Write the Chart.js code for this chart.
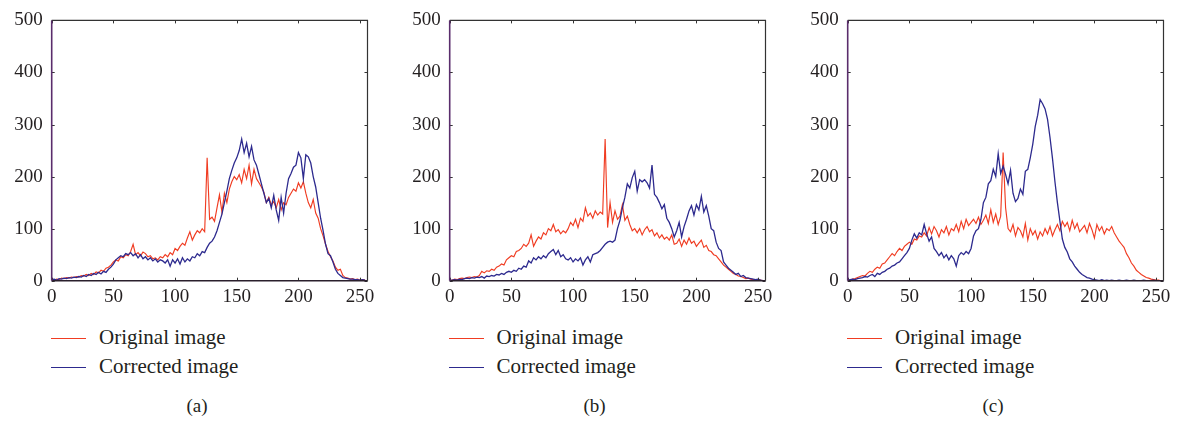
<!DOCTYPE html>
<html>
<head>
<meta charset="utf-8">
<script src="https://cdn.jsdelivr.net/npm/chart.js@4.4.1/dist/chart.umd.min.js"></script>
<style>
  body { margin: 0; background: #fff; width: 1188px; height: 421px; overflow: hidden; position: relative;
         font-family: "Liberation Serif", serif; color: #231f20; }
  canvas { position: absolute; top: 0; }
  .leg { position: absolute; font-size: 21px; line-height: 24px; white-space: nowrap; }
  .swatch { position: absolute; width: 35px; height: 0; }
  .cap { position: absolute; font-size: 19px; width: 60px; text-align: center; line-height: 22px; }
</style>
</head>
<body>
<canvas id="chartA" width="390" height="310"></canvas>
<canvas id="chartB" width="390" height="310"></canvas>
<canvas id="chartC" width="390" height="310"></canvas>
<div id="legends"></div>
<script>
// gray levels (histogram bins, every second level)
const levels = Array.from({ length: 128 }, (_, i) => i * 2);
const xTicks = [0, 50, 100, 150, 200, 250];
const yTicks = [0, 100, 200, 300, 400, 500];
const seriesNames = ['Original image', 'Corrected image'];
const captions = ['(a)', '(b)', '(c)'];

// panel (a)
const aOrig = [
  4, 1, 3, 2, 5, 4, 6, 5, 7, 6, 8, 7, 10, 9, 12, 10,
  14, 12, 17, 15, 20, 18, 24, 26, 30, 36, 40, 38, 46, 44, 50, 48,
  56, 70, 50, 54, 48, 55, 52, 46, 48, 42, 44, 40, 46, 44, 50, 46,
  54, 50, 62, 58, 66, 72, 68, 82, 94, 78, 88, 96, 92, 100, 94, 236,
  118, 122, 114, 140, 165, 132, 168, 150, 176, 190, 200, 194, 204, 188, 214, 196,
  222, 186, 214, 196, 188, 180, 170, 150, 160, 146, 152, 140, 156, 136, 150, 146,
  160, 168, 176, 172, 188, 178, 190, 168, 150, 140, 156, 130, 120, 100, 86, 70,
  56, 46, 38, 26, 20, 22, 10, 6, 5, 3, 4, 2, 3, 1, 2, 1
];
const aCorr = [
  2, 3, 1, 4, 3, 5, 4, 6, 5, 7, 6, 8, 7, 10, 8, 12,
  10, 14, 12, 16, 13, 18, 16, 22, 26, 32, 40, 44, 48, 46, 52, 50,
  54, 48, 52, 44, 50, 42, 46, 40, 44, 38, 42, 36, 40, 38, 34, 40,
  28, 40, 34, 42, 32, 44, 36, 42, 38, 46, 44, 52, 48, 56, 54, 64,
  72, 76, 84, 96, 112, 128, 150, 172, 196, 212, 226, 236, 250, 272, 246, 264,
  238, 258, 232, 222, 204, 186, 168, 150, 158, 140, 164, 136, 116, 160, 130, 168,
  196, 206, 218, 222, 246, 236, 196, 242, 238, 226, 200, 180, 150, 120, 96, 70,
  52, 48, 36, 22, 14, 10, 6, 5, 4, 3, 3, 2, 2, 1, 2, 1
];

// panel (b)
const bOrig = [
  0, 1, 3, 2, 4, 5, 4, 6, 7, 6, 8, 7, 10, 18, 15, 19,
  18, 22, 20, 26, 28, 32, 30, 40, 44, 48, 46, 56, 58, 62, 70, 66,
  72, 88, 66, 76, 84, 80, 92, 88, 100, 96, 108, 94, 98, 90, 96, 92,
  100, 112, 106, 118, 102, 120, 114, 140, 124, 130, 120, 134, 126, 132, 128, 272,
  102, 150, 112, 134, 118, 124, 146, 116, 124, 108, 96, 100, 92, 100, 88, 98,
  104, 94, 98, 86, 92, 82, 88, 80, 84, 78, 88, 70, 72, 80, 66, 78,
  70, 82, 72, 76, 66, 72, 78, 64, 68, 58, 56, 50, 48, 42, 36, 30,
  26, 22, 18, 14, 12, 9, 8, 6, 4, 5, 3, 2, 2, 1, 1, 0
];
const bCorr = [
  0, 1, 2, 1, 3, 2, 4, 5, 4, 6, 5, 7, 6, 8, 5, 9,
  8, 10, 9, 12, 11, 14, 12, 16, 18, 16, 20, 18, 24, 22, 28, 26,
  38, 34, 44, 40, 46, 42, 48, 44, 52, 56, 60, 50, 58, 46, 50, 42,
  40, 44, 36, 42, 38, 44, 30, 40, 46, 36, 50, 52, 54, 58, 64, 70,
  74, 76, 74, 78, 100, 116, 140, 160, 186, 178, 198, 210, 172, 194, 190, 194,
  188, 178, 222, 166, 160, 150, 138, 146, 120, 112, 100, 84, 96, 112, 84, 104,
  118, 134, 144, 126, 146, 136, 162, 132, 144, 124, 100, 96, 74, 62, 58, 36,
  30, 24, 20, 16, 12, 14, 8, 10, 6, 5, 4, 3, 2, 3, 1, 0
];

// panel (c)
const cOrig = [
  2, 1, 3, 4, 6, 8, 10, 9, 14, 18, 16, 22, 26, 24, 32, 34,
  40, 46, 52, 48, 56, 62, 58, 66, 70, 74, 70, 80, 78, 86, 84, 92,
  86, 102, 90, 104, 96, 84, 98, 92, 104, 88, 100, 96, 108, 94, 114, 100,
  118, 106, 112, 118, 110, 122, 108, 116, 126, 110, 136, 112, 128, 108, 124, 246,
  140, 100, 94, 108, 86, 102, 96, 84, 110, 78, 100, 88, 96, 80, 94, 86,
  100, 90, 104, 86, 98, 108, 96, 114, 104, 112, 96, 116, 100, 110, 94, 100,
  106, 92, 110, 98, 82, 108, 96, 104, 90, 100, 96, 104, 92, 84, 76, 70,
  64, 52, 44, 34, 28, 20, 16, 12, 9, 6, 5, 3, 2, 1, 1, 0
];
const cCorr = [
  1, 2, 3, 2, 4, 5, 6, 8, 7, 10, 12, 8, 14, 12, 16, 18,
  22, 24, 28, 30, 34, 36, 42, 48, 54, 62, 78, 90, 82, 92, 88, 108,
  90, 76, 84, 62, 56, 48, 54, 44, 50, 40, 48, 42, 28, 48, 54, 50,
  56, 52, 62, 86, 96, 100, 118, 150, 160, 186, 192, 214, 200, 244, 206, 220,
  204, 186, 212, 168, 152, 158, 176, 166, 210, 214, 236, 262, 296, 318, 348, 340,
  330, 310, 275, 235, 190, 150, 115, 80, 64, 55, 42, 36, 28, 22, 16, 12,
  9, 6, 5, 3, 2, 1, 0, 2, 0, 1, 0, 1, 0, 0, 1, 0,
  0, 1, 0, 0, 1, 0, 0, 0, 1, 0, 0, 0, 1, 0, 0, 0
];

const RED = '#f03c22';
const BLUE = '#2d2a8e';
const TEXT = '#231f20';
const tickFont = { family: '"Liberation Serif", serif', size: 19 };

// box round the plot with inward tick marks on all four sides
const frame = {
  id: 'frame',
  afterDatasetsDraw(chart) {
    const { ctx, chartArea: a, scales: { x, y } } = chart;
    ctx.save();
    ctx.lineWidth = 1;
    ctx.strokeStyle = '#333';
    ctx.beginPath();
    x.ticks.forEach(t => {
      const px = Math.round(x.getPixelForValue(t.value)) + 0.5;
      ctx.moveTo(px, a.bottom); ctx.lineTo(px, a.bottom - 3);
      ctx.moveTo(px, a.top); ctx.lineTo(px, a.top + 3);
    });
    y.ticks.forEach(t => {
      const py = Math.round(y.getPixelForValue(t.value)) + 0.5;
      ctx.moveTo(a.left, py); ctx.lineTo(a.left + 3, py);
      ctx.moveTo(a.right, py); ctx.lineTo(a.right - 3, py);
    });
    ctx.stroke();
    ctx.lineWidth = 1.2;
    ctx.beginPath();
    ctx.moveTo(a.left, a.top); ctx.lineTo(a.right, a.top); ctx.lineTo(a.right, a.bottom);
    ctx.stroke();
    ctx.lineWidth = 1.6;
    ctx.strokeStyle = '#2a1f2c';
    ctx.beginPath();
    ctx.moveTo(a.left, a.bottom); ctx.lineTo(a.right, a.bottom);
    ctx.stroke();
    ctx.strokeStyle = '#5a2d6c';
    ctx.beginPath();
    ctx.moveTo(a.left, a.top); ctx.lineTo(a.left, a.bottom);
    ctx.stroke();
    ctx.restore();
  }
};

function makeChart(id, orig, corr) {
  return new Chart(document.getElementById(id), {
    type: 'line',
    data: {
      datasets: [
        { label: seriesNames[0], data: levels.map((v, i) => ({ x: v, y: orig[i] })),
          borderColor: RED, borderWidth: 1.15, pointRadius: 0, order: 1 },
        { label: seriesNames[1], data: levels.map((v, i) => ({ x: v, y: corr[i] })),
          borderColor: BLUE, borderWidth: 1.3, pointRadius: 0, order: 0 }
      ]
    },
    options: {
      responsive: false,
      animation: false,
      layout: { padding: { top: 14.7, right: 22.5, left: 0, bottom: 0 } },
      plugins: { legend: { display: false }, tooltip: { enabled: false } },
      scales: {
        x: {
          type: 'linear', min: 0, max: 256,
          afterBuildTicks: s => { s.ticks = xTicks.map(v => ({ value: v })); },
          afterFit: s => { s.height = 29.3; },
          grid: { display: false, drawTicks: false },
          border: { display: false },
          ticks: { font: tickFont, color: TEXT, padding: 5, maxRotation: 0, autoSkip: false }
        },
        y: {
          min: 0, max: 500,
          afterBuildTicks: s => { s.ticks = yTicks.map(v => ({ value: v })); },
          afterFit: s => { s.width = 51.7; },
          grid: { display: false, drawTicks: false },
          border: { display: false },
          ticks: { font: tickFont, color: TEXT, padding: 9 }
        }
      }
    },
    plugins: [frame]
  });
}

const offsets = [0, 397.6, 796];
const ids = ['chartA', 'chartB', 'chartC'];
const panels = [[aOrig, aCorr], [bOrig, bCorr], [cOrig, cCorr]];
const legendBox = document.getElementById('legends');

panels.forEach((p, k) => {
  const cv = document.getElementById(ids[k]);
  cv.style.left = offsets[k] + 'px';
  const chart = makeChart(ids[k], p[0], p[1]);
  // legend below each plot, built from the chart's datasets
  chart.data.datasets.forEach((ds, j) => {
    const lineY = [339, 367.5][j];
    const sw = document.createElement('div');
    sw.className = 'swatch';
    sw.style.left = (offsets[k] + 51) + 'px';
    sw.style.top = (lineY - 0.6) + 'px';
    sw.style.borderTop = '1.3px solid ' + ds.borderColor;
    legendBox.appendChild(sw);
    const tx = document.createElement('div');
    tx.className = 'leg';
    tx.style.left = (offsets[k] + 99) + 'px';
    tx.style.top = (lineY - 14) + 'px';
    tx.textContent = ds.label;
    legendBox.appendChild(tx);
  });
  const cap = document.createElement('div');
  cap.className = 'cap';
  cap.style.left = (offsets[k] + 197 - 30) + 'px';
  cap.style.top = '395px';
  cap.textContent = captions[k];
  legendBox.appendChild(cap);
});
</script>
</body>
</html>
